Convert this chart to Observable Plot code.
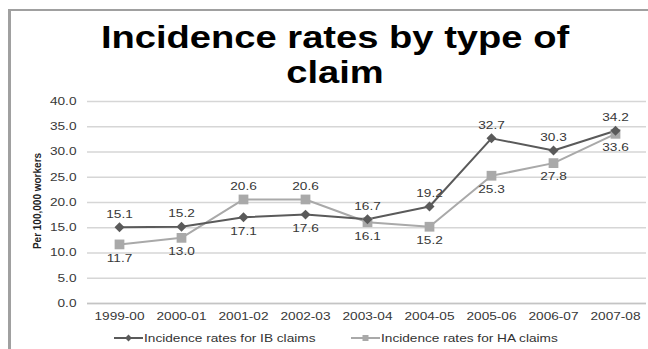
<!DOCTYPE html>
<html>
<head>
<meta charset="utf-8">
<script src="https://cdn.jsdelivr.net/npm/d3@7"></script>
<script src="https://cdn.jsdelivr.net/npm/@observablehq/plot@0.6"></script>
<style>
  html, body { margin: 0; padding: 0; background: #fff; }
  body { width: 648px; height: 349px; position: relative; overflow: hidden; font-family: "Liberation Sans", Arial, sans-serif; }
  #frame { position: absolute; left: 8px; top: 9px; width: 640px; height: 345px; border-left: 3px solid #a0a0a0; border-top: 2px solid #a0a0a0; box-sizing: border-box; }
  .title { position: absolute; left: 20px; width: 630px; text-align: center; font-size: 30.5px; font-weight: bold; line-height: 28px; height: 28px; color: #000; transform: scaleX(1.25); transform-origin: 315px 50%; white-space: nowrap; }
  #t1 { top: 23px; }
  #t2 { top: 58px; }
  #chart { position: absolute; left: 0; top: 88px; }
  #ylabel { position: absolute; left: 37px; top: 201px; transform: translate(-50%, -50%) rotate(-90deg); font-size: 10px; font-weight: bold; white-space: nowrap; color: #222; }
  #legend { position: absolute; top: 331px; left: 0; width: 648px; height: 14px; font-size: 10.5px; color: #333; }
  .item { position: absolute; top: 0; height: 14px; }
  .item svg { position: absolute; left: 0; top: 0; }
  .item span { position: absolute; top: 0; line-height: 14px; white-space: nowrap; transform: scaleX(1.3); transform-origin: 0 50%; }
</style>
</head>
<body>
<div id="frame"></div>
<div class="title" id="t1">Incidence rates by type of</div>
<div class="title" id="t2">claim</div>
<div id="chart"></div>
<div id="ylabel">Per 100,000 workers</div>
<div id="legend"></div>
<script>
const categories = ["1999-00","2000-01","2001-02","2002-03","2003-04","2004-05","2005-06","2006-07","2007-08"];
const ibValues = [15.1, 15.2, 17.1, 17.6, 16.7, 19.2, 32.7, 30.3, 34.2];
const haValues = [11.7, 13.0, 20.6, 20.6, 16.1, 15.2, 25.3, 27.8, 33.6];
const seriesNames = ["Incidence rates for IB claims", "Incidence rates for HA claims"];
const yTicks = [0, 5, 10, 15, 20, 25, 30, 35, 40];

const ibColor = "#5a5a5a";
const haColor = "#a9a9a9";
const textColor = "#383838";

const ib = categories.map((c, i) => ({cat: c, v: ibValues[i], other: haValues[i]}));
const ha = categories.map((c, i) => ({cat: c, v: haValues[i], other: ibValues[i]}));
const above = d => d.v > d.other;
const fmt = d => d.v.toFixed(1);

const plot = Plot.plot({
  width: 648,
  height: 240,
  marginLeft: 87,
  marginRight: 2,
  marginTop: 13,
  marginBottom: 25,
  style: {fontFamily: "'Liberation Sans', Arial, sans-serif", fontSize: "10.5px", color: textColor, background: "transparent"},
  x: {type: "point", domain: categories, padding: 0.5, label: null},
  y: {domain: [0, 40], label: null},
  marks: [
    Plot.ruleY(yTicks, {stroke: "#d6d6d6", strokeWidth: 1.5}),
    Plot.ruleX([0], {x: () => null, frameAnchor: "left", stroke: "#c4c4c4", strokeWidth: 1.2}),
    Plot.ruleY([0], {stroke: "#c4c4c4", strokeWidth: 1.5}),
    Plot.axisY({ticks: yTicks, tickSize: 0, tickPadding: 11, tickFormat: d => d.toFixed(1), fill: textColor, fontSize: 10.5}),
    Plot.axisX({tickSize: 0, tickPadding: 9, fill: textColor, fontSize: 10.5}),
    Plot.line(ha, {x: "cat", y: "v", stroke: haColor, strokeWidth: 2}),
    Plot.line(ib, {x: "cat", y: "v", stroke: ibColor, strokeWidth: 2}),
    Plot.dot(ha, {x: "cat", y: "v", symbol: "square", r: 5.5, fill: haColor, stroke: "none"}),
    Plot.dot(ib, {x: "cat", y: "v", symbol: "diamond2", r: 4.5, fill: ibColor, stroke: "none"}),
    Plot.text(ib.filter(above), {x: "cat", y: "v", text: fmt, dy: -13, fill: textColor, fontSize: 10.5}),
    Plot.text(ib.filter(d => !above(d)), {x: "cat", y: "v", text: fmt, dy: 14, fill: textColor, fontSize: 10.5}),
    Plot.text(ha.filter(above), {x: "cat", y: "v", text: fmt, dy: -13, fill: textColor, fontSize: 10.5}),
    Plot.text(ha.filter(d => !above(d)), {x: "cat", y: "v", text: fmt, dy: 14, fill: textColor, fontSize: 10.5})
  ]
});
document.getElementById("chart").appendChild(plot);

// widen the chart's small texts like the reference's stretched lettering
plot.querySelectorAll("text").forEach(t => {
  const len = t.getComputedTextLength();
  if (len > 0) {
    t.setAttribute("textLength", (len * 1.3).toFixed(2));
    t.setAttribute("lengthAdjust", "spacingAndGlyphs");
  }
});

// Legend
const legend = document.getElementById("legend");
const legendDefs = [
  {name: seriesNames[0], color: ibColor, symbol: d3.symbolDiamond2, size: 30, left: 114},
  {name: seriesNames[1], color: haColor, symbol: d3.symbolSquare, size: 36, left: 351}
];
legendDefs.forEach(def => {
  const item = document.createElement("div");
  item.className = "item";
  item.style.left = def.left + "px";
  const svg = d3.create("svg").attr("width", 29).attr("height", 14);
  svg.append("line").attr("x1", 0).attr("x2", 29).attr("y1", 7).attr("y2", 7).attr("stroke", def.color).attr("stroke-width", 2);
  svg.append("path").attr("d", d3.symbol(def.symbol, def.size)()).attr("transform", "translate(14.5,7)").attr("fill", def.color);
  item.appendChild(svg.node());
  const span = document.createElement("span");
  span.style.left = "30px";
  span.textContent = def.name;
  item.appendChild(span);
  legend.appendChild(item);
});
</script>
</body>
</html>
